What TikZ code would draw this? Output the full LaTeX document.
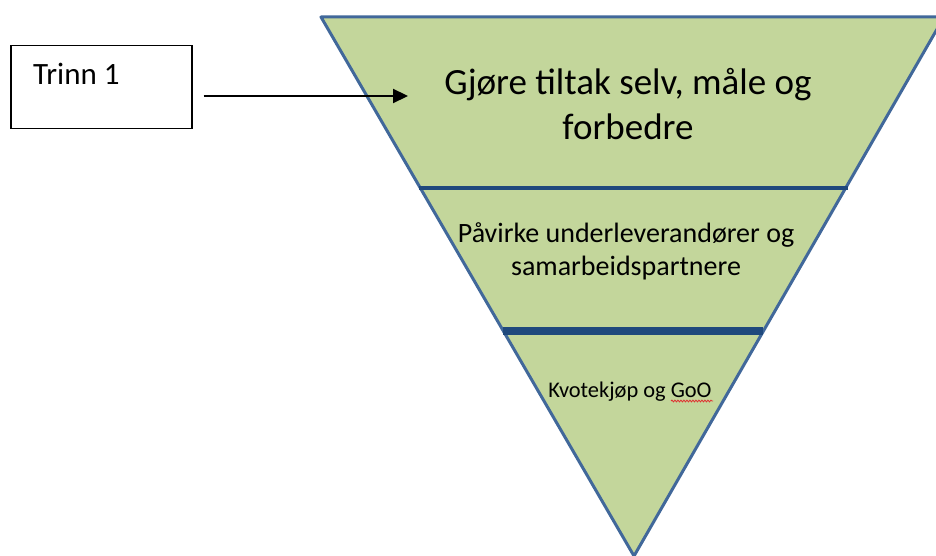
\documentclass[tikz,border=0pt]{standalone}
\usepackage{fontspec}
\setmainfont{Carlito}
\usepackage{tikz}
\usetikzlibrary{positioning,arrows.meta,decorations.pathmorphing}
\definecolor{leaf}{HTML}{C3D69B}
\definecolor{rim}{HTML}{41689A}
\definecolor{navy}{HTML}{1F497D}
\definecolor{spell}{HTML}{E03030}

\begin{document}
\begin{tikzpicture}[
  x=1pt,y=-1pt,
  lvl/.style={align=center,inner sep=0pt,text=black},
  tag/.style={draw=black,line width=1.5pt,minimum width=181pt,minimum height=83pt,anchor=north west,inner sep=0pt},
  arr/.style={-{Triangle[length=15pt,width=14pt]},line width=2.2pt,black}
]
\useasboundingbox (0,0) rectangle (936,556);
% the funnel
\fill[leaf] (321,17) -- (944,17) -- (634,556) -- cycle;
\draw[rim,line width=3pt,line join=round] (321,17) -- (944,17) -- (634,556) -- cycle;
\draw[navy,line width=3.5pt] (419,188) -- (848,188);
\fill[navy] (503,327) rectangle (763,335);
% texts
\node[lvl,font=\fontsize{37}{45.5}\selectfont] (top) at (628,104) {Gjøre tiltak selv, måle og\\forbedre};
\node[lvl,font=\fontsize{28}{33}\selectfont] (mid) at (626,251) {Påvirke underleverandører og\\samarbeidspartnere};
\node[lvl,font=\fontsize{22.4}{27}\selectfont,anchor=base] (low) at (630,397) {Kvotekjøp og GoO};
\draw[spell,line width=0.8pt,decorate,decoration={snake,amplitude=0.9pt,segment length=3pt}] (671,401) -- (713,401);
% step box
\node[tag] (trinn) at (10,45) {};
\node[lvl,font=\fontsize{31}{37}\selectfont,anchor=base west] (trinnlbl) at (33,85) {Trinn 1};
\coordinate (tip) at (408,96);
\draw[arr,shorten <=11pt] (trinn.east |- tip) -- (tip);
\end{tikzpicture}
\end{document}
